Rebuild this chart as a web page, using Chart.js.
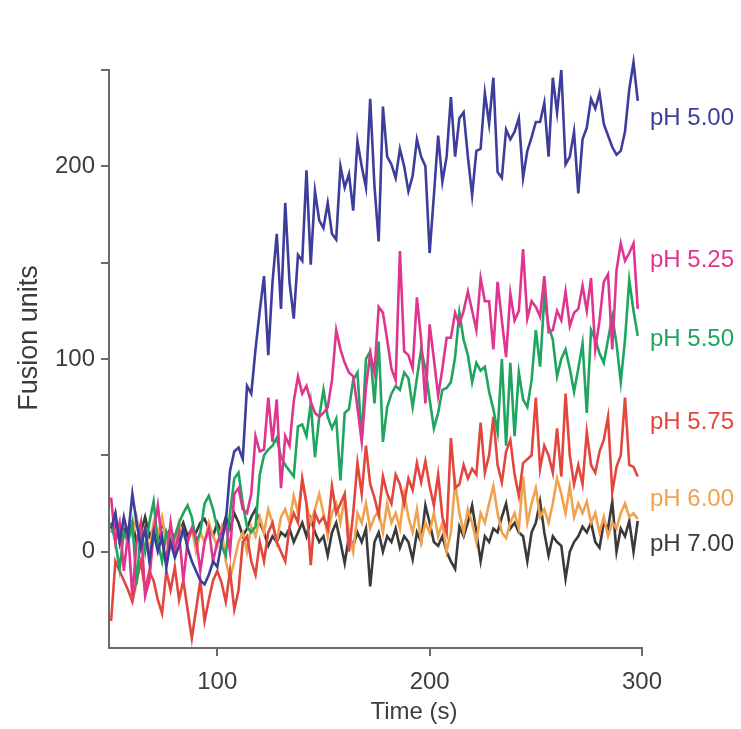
<!doctype html>
<html lang="en">
<head>
  <meta charset="utf-8">
  <title>Fusion units vs time</title>
  <style>
    * { margin: 0; padding: 0; }
    body { background: #fff; }
    #chart { display: block; }
  </style>
</head>
<body>
  <canvas id="chart" width="741" height="729"></canvas>

  <script src="https://cdn.jsdelivr.net/npm/chart.js"></script>
  <script>
    // time points (s)
    const times = [
      50, 52, 54, 56, 58, 60, 62, 64, 66, 68, 70, 72, 74, 76, 78, 80, 82, 84, 86, 88,
      90, 92, 94, 96, 98, 100, 102, 104, 106, 108, 110, 112, 114, 116, 118, 120, 122, 124, 126, 128,
      130, 132, 134, 136, 138, 140, 142, 144, 146, 148, 150, 152, 154, 156, 158, 160, 162, 164, 166, 168,
      170, 172, 174, 176, 178, 180, 182, 184, 186, 188, 190, 192, 194, 196, 198, 200, 202, 204, 206, 208,
      210, 212, 214, 216, 218, 220, 222, 224, 226, 228, 230, 232, 234, 236, 238, 240, 242, 244, 246, 248,
      250, 252, 254, 256, 258, 260, 262, 264, 266, 268, 270, 272, 274, 276, 278, 280, 282, 284, 286, 288,
      290, 292, 294, 296, 298
    ];

    const ph500 = [
      12, 20, 5, 18, 8, 30, 15, 2, 12, -5, 10, 0, 8, -8, 5, -3, 3, 12, 2, -5,
      -10, -15, -17, -12, -5, -8, 5, 15, 42, 52, 54, 48, 86, 82, 105, 125, 143, 102, 140, 165,
      126, 181, 140, 121, 154, 151, 198, 149, 187, 172, 168, 181, 165, 162, 200, 189, 196, 177, 213, 200,
      189, 235, 190, 161, 231, 205, 201, 194, 209, 200, 187, 195, 214, 205, 200, 155, 185, 216, 192, 205,
      236, 205, 225, 228, 205, 185, 208, 209, 238, 222, 246, 197, 194, 219, 214, 218, 225, 194, 208, 215,
      223, 223, 233, 205, 246, 228, 250, 201, 205, 218, 186, 214, 220, 235, 230, 238, 222, 216, 210, 206,
      208, 218, 240, 254, 234
    ];

    const ph525 = [
      28, 5, 15, -10, 10, -23, 5, 15, -23, -15, 10, 24, 5, -5, 15, 0, 10, -15, 5, 12,
      7, -10, 5, 12, -5, 5, 10, 15, 0, 30, 33, 22, 20, 30, 60, 52, 53, 80, 57, 79,
      33, 60, 55, 78, 91, 82, 86, 78, 72, 70, 72, 75, 89, 115, 105, 98, 93, 91, 75, 57,
      85, 103, 93, 127, 124, 110, 95, 89, 156, 104, 102, 95, 132, 110, 77, 118, 100, 81, 95, 111,
      111, 124, 118, 125, 135, 125, 115, 142, 130, 130, 105, 140, 120, 101, 134, 120, 125, 157, 121, 130,
      127, 122, 143, 114, 115, 125, 120, 135, 117, 124, 126, 138, 125, 142, 105, 120, 140, 144, 105, 146,
      160, 151, 155, 160, 126
    ];

    const ph550 = [
      15, 5, -9, 10, 5, 15, -17, 12, 0, 15, 26, 5, -5, 10, 3, 8, 15, 20, 24, 18,
      5, 10, 25, 29, 22, 12, 3, -2, 20, 38, 41, 25, 13, 10, 13, 40, 50, 53, 55, 59,
      49, 45, 42, 39, 65, 66, 60, 77, 49, 70, 84, 70, 64, 69, 37, 72, 74, 89, 93, 58,
      100, 104, 77, 109, 57, 75, 82, 86, 84, 93, 90, 75, 90, 105, 95, 79, 64, 72, 84, 85,
      88, 101, 124, 110, 102, 88, 98, 94, 96, 83, 74, 62, 100, 55, 98, 60, 93, 79, 75, 89,
      115, 96, 132, 117, 110, 91, 100, 105, 95, 83, 95, 108, 72, 115, 110, 103, 98, 110, 122, 108,
      88, 110, 141, 125, 112
    ];

    const ph575 = [
      -36, -5, -10, -15, -20, -26, -15, -5, -20, -10, -15, -25, -32, -10, -20, -8, -25, -15, -30, -45,
      -30, -15, -36, -25, -15, -10, -16, -26, -10, -30, -20, 5, 8, -5, -12, 5, -5, 10, 15, 5,
      0, -5, 13, 20, 15, 38, 25, -7, 20, 15, 18, 12, 34, 20, 25, 30, 0, 20, 46, 30,
      55, 35, 28, 19, 39, 30, 25, 40, 35, 25, 38, 32, 46, 36, 47, 34, 24, 40, 18, 10,
      59, 33, 35, 45, 38, 43, 40, 67, 41, 50, 70, 45, 36, 52, 58, 40, 29, 46, 48, 50,
      80, 43, 55, 50, 41, 64, 39, 82, 50, 35, 45, 35, 62, 45, 41, 52, 58, 70, 31, 44,
      50, 80, 45, 44, 39
    ];

    const ph600 = [
      10, 20, 5, 15, 12, 8, 18, 5, 12, 0, 15, 8, 18, 5, 10, 2, 15, 8, 5, 12,
      0, 10, 5, 15, 8, 3, 12, -5, -14, -5, 5, 10, 0, 13, 8, 18, 10, 22, 15, 5,
      18, 22, 15, 29, 20, 37, 25, 15, 22, 30, 20, 8, 20, 25, 15, 28, 10, 0, 20, 15,
      25, 12, 18, 21, 10, 25, 15, 20, 12, 30, 18, 10, 22, 5, 15, 10, 20, 8, 15, 0,
      10, 36, 20, 10, 22, 15, 5, 20, 15, 25, 34, 20, 10, 7, 15, 20, 12, 39, 15, 25,
      33, 18, 22, 15, 25, 38, 30, 20, 34, 18, 25, 20, 26, 15, 20, 10, 18, 8, 15, 12,
      20, 25, 18, 20, 17
    ];

    const ph700 = [
      10, 15, 5, 12, 8, 15, 5, 10, 18, 8, 12, 5, 15, 8, 12, 5, 10, 15, 8, 12,
      10, 15, 17, 12, 8, 15, 10, 18, 12, 20, 15, 8, 12, 18, 22, 15, 10, 3, 8, 5,
      10, 8, 12, 5, 10, 15, 8, 17, 10, 5, 8, -2, 10, 15, 5, -6, 8, 3, 10, 5,
      12, -18, 5, 10, 0, 8, 5, 12, 2, 8, 5, -4, 10, 5, 24, 15, 5, 3, 8, 0,
      -5, -9, 13, 8, 15, 24, 10, -5, 8, 5, 12, 10, 18, 25, 12, 15, 10, 8, -5, 10,
      15, 26, 10, -2, 8, 5, 3, -14, 0, 5, 8, 13, 10, 15, 5, 2, 15, 12, 26, 0,
      12, 8, 16, 0, 16
    ];

    const seriesNames = ['pH 5.00', 'pH 5.25', 'pH 5.50', 'pH 5.75', 'pH 6.00', 'pH 7.00'];
    const seriesValues = [ph500, ph525, ph550, ph575, ph600, ph700];
    const seriesColors = ['#3d3d9b', '#e0358f', '#1fa55f', '#e2463d', '#f0a24f', '#3a3a3a'];
    // where each right-hand label sits, in fusion units
    const labelLevels = [225, 151, 110, 67, 27, 4];

    const xTicks = [100, 200, 300];
    const yTicks = [0, 50, 100, 150, 200, 250];
    const yLabelled = [0, 100, 200];

    const axisColor = '#6b6b6b';
    const textColor = '#3d3d3d';
    const fontFamily = '"Liberation Sans", Arial, sans-serif';

    const datasets = seriesNames.map((name, i) => ({
      label: name,
      data: times.map((t, j) => ({ x: t, y: seriesValues[i][j] })),
      borderColor: seriesColors[i],
      borderWidth: 2.6,
      pointRadius: 0,
      tension: 0,
      fill: false,
      clip: false
    }));

    const sideText = {
      id: 'sideText',
      afterDraw(chart) {
        const ctx = chart.ctx;
        const y = chart.scales.y;
        const area = chart.chartArea;
        ctx.save();
        ctx.font = '24px ' + fontFamily;
        ctx.textBaseline = 'middle';
        ctx.textAlign = 'left';
        seriesNames.forEach((name, i) => {
          ctx.fillStyle = seriesColors[i];
          ctx.fillText(name, area.right + 8, y.getPixelForValue(labelLevels[i]));
        });

        // axis titles
        ctx.fillStyle = textColor;
        ctx.textAlign = 'center';
        ctx.fillText('Time (s)', 414, 712);
        ctx.translate(30, 338);
        ctx.rotate(-Math.PI / 2);
        ctx.font = '27px ' + fontFamily;
        ctx.fillText('Fusion units', 0, 0);
        ctx.restore();
      }
    };

    new Chart(document.getElementById('chart'), {
      type: 'line',
      data: { datasets },
      options: {
        responsive: false,
        animation: false,
        events: [],
        layout: { padding: { left: 0, top: 70, right: 99, bottom: 0 } },
        plugins: {
          legend: { display: false },
          tooltip: { enabled: false }
        },
        scales: {
          x: {
            type: 'linear',
            min: 49,
            max: 300,
            afterBuildTicks: s => { s.ticks = xTicks.map(v => ({ value: v })); },
            afterFit: s => { s.height = 81; },
            border: { display: true, color: axisColor, width: 2 },
            grid: { drawOnChartArea: false, drawTicks: true, tickLength: 8, color: axisColor, lineWidth: 2 },
            ticks: {
              padding: 12,
              color: textColor,
              font: { family: fontFamily, size: 24 },
              maxRotation: 0
            }
          },
          y: {
            type: 'linear',
            min: -50,
            max: 250,
            afterBuildTicks: s => { s.ticks = yTicks.map(v => ({ value: v })); },
            afterFit: s => { s.width = 109; },
            border: { display: true, color: axisColor, width: 2 },
            grid: { drawOnChartArea: false, drawTicks: true, tickLength: 8, color: axisColor, lineWidth: 2 },
            ticks: {
              padding: 6,
              color: textColor,
              font: { family: fontFamily, size: 24 },
              callback: v => (yLabelled.includes(v) ? String(v) : '')
            }
          }
        }
      },
      plugins: [sideText]
    });
  </script>
</body>
</html>
